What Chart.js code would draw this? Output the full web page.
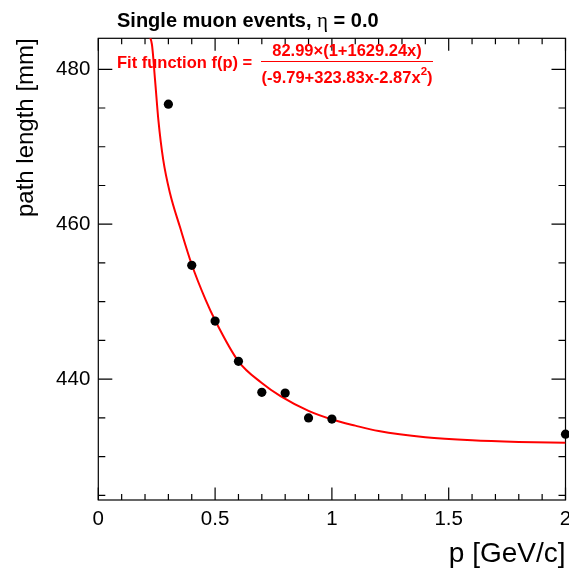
<!DOCTYPE html>
<html>
<head>
<meta charset="utf-8">
<script src="https://cdn.jsdelivr.net/npm/chart.js@4.4.1/dist/chart.umd.min.js"></script>
<style>
  html, body { margin: 0; padding: 0; background: #fff; }
  #wrap { width: 569px; height: 570px; }
</style>
</head>
<body>
<div id="wrap"><canvas id="chart" width="569" height="570"></canvas></div>
<script>
// measured points: path length vs momentum
const momentum = [0.3, 0.4, 0.5, 0.6, 0.7, 0.8, 0.9, 1.0, 2.0];
const pathLength = [475.5, 454.7, 447.5, 442.3, 438.3, 438.2, 435.0, 434.85, 432.9];

// fit curve
const fitP = [0.2, 0.229, 0.243, 0.257, 0.278, 0.307, 0.35, 0.4, 0.46, 0.5, 0.6, 0.7, 0.78, 0.9, 1.0, 1.1, 1.2, 1.4, 1.6, 1.8, 2.0];
const fitL = [485.0, 483.3, 478.6, 473.5, 468.3, 464.0, 459.6, 454.8, 450.2, 447.6, 442.3, 439.5, 437.8, 435.9, 434.8, 434.0, 433.3, 432.5, 432.1, 431.9, 431.8];

const xTicks = [0, 0.5, 1, 1.5, 2];
const xTickLabels = ['0', '0.5', '1', '1.5', '2'];
const yTicks = [440, 460, 480];
const yTickLabels = ['440', '460', '480'];

const SANS = '"Liberation Sans", Arial, Helvetica, sans-serif';

// ROOT style frame with inward ticks on all four sides
const frameTicks = {
  id: 'frameTicks',
  beforeDatasetsDraw(chart) {
    const { ctx, chartArea: a, scales: { x, y } } = chart;
    ctx.save();
    ctx.strokeStyle = '#000';
    ctx.lineWidth = 1.2;
    ctx.strokeRect(a.left, a.top, a.right - a.left, a.bottom - a.top);
    ctx.beginPath();
    for (let i = 0; i <= 20; i++) {
      const px = x.getPixelForValue(i / 10);
      const len = i % 5 === 0 ? 12.5 : 6;
      ctx.moveTo(px, a.bottom); ctx.lineTo(px, a.bottom - len);
      ctx.moveTo(px, a.top); ctx.lineTo(px, a.top + len);
    }
    for (let v = 425; v <= 484; v += 5) {
      const py = y.getPixelForValue(v);
      const len = v % 20 === 0 ? 14 : 7;
      ctx.moveTo(a.left, py); ctx.lineTo(a.left + len, py);
      ctx.moveTo(a.right, py); ctx.lineTo(a.right - len, py);
    }
    ctx.stroke();
    ctx.restore();
  },
  afterDatasetsDraw(chart) {
    const { ctx } = chart;
    ctx.save();
    ctx.textBaseline = 'alphabetic';
    ctx.textAlign = 'left';

    // title
    ctx.fillStyle = '#000';
    let tx = 117;
    ctx.font = 'bold 20px ' + SANS;
    ctx.fillText('Single muon events, ', tx, 26.5);
    tx += ctx.measureText('Single muon events, ').width;
    ctx.font = '21px "Liberation Serif", serif';
    ctx.fillText('\u03B7', tx, 26.5);
    tx += ctx.measureText('\u03B7').width;
    ctx.font = 'bold 20px ' + SANS;
    ctx.fillText(' = 0.0', tx, 26.5);

    // fit function
    ctx.fillStyle = '#ff0000';
    ctx.strokeStyle = '#ff0000';
    ctx.font = 'bold 16.5px ' + SANS;
    ctx.fillText('Fit function f(p) =', 117, 67.5);

    const cx = 347;
    ctx.textAlign = 'center';
    ctx.fillText('82.99\u00D7(1+1629.24x)', cx, 56);

    ctx.lineWidth = 1;
    ctx.beginPath();
    ctx.moveTo(261, 61.5);
    ctx.lineTo(433, 61.5);
    ctx.stroke();

    ctx.textAlign = 'left';
    const d1 = '(-9.79+323.83x-2.87x', d2 = '2', d3 = ')';
    ctx.font = 'bold 16.5px ' + SANS;
    const w1 = ctx.measureText(d1).width, w3 = ctx.measureText(d3).width;
    ctx.font = 'bold 11.5px ' + SANS;
    const w2 = ctx.measureText(d2).width;
    let dx = cx - (w1 + w2 + w3) / 2;
    ctx.font = 'bold 16.5px ' + SANS;
    ctx.fillText(d1, dx, 82.5);
    ctx.font = 'bold 11.5px ' + SANS;
    ctx.fillText(d2, dx + w1, 75);
    ctx.font = 'bold 16.5px ' + SANS;
    ctx.fillText(d3, dx + w1 + w2, 82.5);
    ctx.restore();
  }
};

new Chart(document.getElementById('chart'), {
  type: 'scatter',
  data: {
    datasets: [
      {
        label: 'data',
        data: momentum.map((p, i) => ({ x: p, y: pathLength[i] })),
        backgroundColor: '#000',
        borderWidth: 0,
        pointRadius: 4.6,
        clip: false
      },
      {
        label: 'fit',
        data: fitP.map((p, i) => ({ x: p, y: fitL[i] })),
        showLine: true,
        borderColor: '#ff0000',
        borderWidth: 2,
        pointRadius: 0,
        cubicInterpolationMode: 'monotone',
        clip: 0
      }
    ]
  },
  options: {
    responsive: false,
    animation: false,
    layout: { autoPadding: false, padding: { top: 38.3, right: 3.5, left: 0, bottom: 0 } },
    plugins: { legend: { display: false }, tooltip: { enabled: false } },
    scales: {
      x: {
        type: 'linear',
        min: 0, max: 2,
        afterFit: (s) => { s.height = 70; s.paddingLeft = 0; s.paddingRight = 0; },
        afterBuildTicks: (s) => { s.ticks = xTicks.map(v => ({ value: v })); },
        grid: { display: false, drawTicks: false },
        border: { display: false },
        ticks: {
          color: '#000', padding: 7.2,
          font: { family: SANS, size: 20.5 },
          callback: (v) => xTickLabels[xTicks.indexOf(v)]
        },
        title: {
          display: true, text: 'p [GeV/c]', align: 'end', color: '#000',
          font: { family: SANS, size: 28, lineHeight: 1 },
          padding: { top: 0, bottom: 1.5 }
        }
      },
      y: {
        type: 'linear',
        min: 424.4, max: 484.0,
        afterFit: (s) => { s.width = 98.3; s.paddingTop = 0; s.paddingBottom = 0; },
        afterBuildTicks: (s) => { s.ticks = yTicks.map(v => ({ value: v })); },
        grid: { display: false, drawTicks: false },
        border: { display: false },
        ticks: {
          color: '#000', padding: 8,
          font: { family: SANS, size: 20.5 },
          callback: (v) => yTickLabels[yTicks.indexOf(v)]
        },
        title: {
          display: true, text: 'path length [mm]', align: 'end', color: '#000',
          font: { family: SANS, size: 24, lineHeight: 1 },
          padding: { top: 14, bottom: 0 }
        }
      }
    }
  },
  plugins: [frameTicks]
});
</script>
</body>
</html>
